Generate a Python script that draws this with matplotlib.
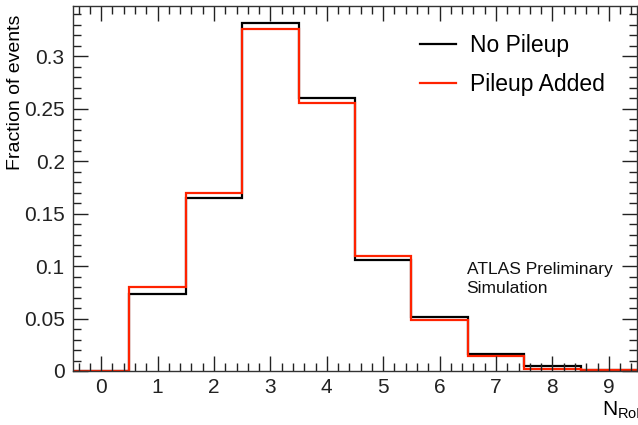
import matplotlib
matplotlib.use("Agg")
import matplotlib.pyplot as plt
from matplotlib.ticker import MultipleLocator
import numpy as np

plt.rcParams['font.family'] = ['Liberation Sans', 'DejaVu Sans']
plt.rcParams['mathtext.fontset'] = 'custom'
plt.rcParams['mathtext.rm'] = 'Liberation Sans'
plt.rcParams['mathtext.it'] = 'Liberation Sans'

# number of RoIs per event (bin centres 0..9)
n_roi = [0, 1, 2, 3, 4, 5, 6, 7, 8, 9]
no_pileup = [0.0, 0.0733, 0.1648, 0.3314, 0.2600, 0.1057, 0.0514, 0.0162, 0.0048, 0.0010]
pileup_added = [0.0, 0.0800, 0.1695, 0.3257, 0.2552, 0.1095, 0.0486, 0.0143, 0.0020, 0.0010]

edges = np.append(np.array(n_roi) - 0.5, n_roi[-1] + 0.5)

fig = plt.figure(figsize=(6.38, 4.25), dpi=100)
ax = fig.add_axes([73/638, 54/425, 564/638, 365/425])

ax.stairs(no_pileup, edges, color="black", lw=1.6, label="No Pileup")
ax.stairs(pileup_added, edges, color="#ff2200", lw=1.6, label="Pileup Added")

ax.set_xlim(edges[0], edges[-1])
ax.set_ylim(0, 1.05 * max(no_pileup))

# ATLAS-style ticks
ax.xaxis.set_major_locator(MultipleLocator(1))
ax.xaxis.set_minor_locator(MultipleLocator(0.2))
ax.yaxis.set_major_locator(MultipleLocator(0.05))
ax.yaxis.set_minor_locator(MultipleLocator(0.01))
ax.tick_params(which="both", direction="in", top=True, right=True, labelsize=15, colors="#222222")
ax.tick_params(which="major", length=11, width=1)
ax.tick_params(which="minor", length=6, width=1)
ax.tick_params(axis="x", pad=5)
ax.tick_params(axis="y", pad=6)
ax.yaxis.set_major_formatter(matplotlib.ticker.FuncFormatter(lambda v, p: f"{v:g}"))
for s in ax.spines.values():
    s.set_color("#333333")
    s.set_linewidth(1)

ax.set_ylabel("Fraction of events", fontsize=14, ha="right", va="center")
ax.yaxis.set_label_coords(-0.102, 0.975)
fig.text(602/638, 1 - 410/425, r"N$_{\mathrm{RoI}}$", fontsize=15, ha="left", va="center")

leg = ax.legend(loc="upper left", bbox_to_anchor=(0.578, 0.98), frameon=False, fontsize=16.5,
                handlelength=1.6, handletextpad=0.6, labelspacing=0.7)

ax.text(0.698, 0.252, "ATLAS Preliminary\nSimulation", transform=ax.transAxes,
        fontsize=12.5, ha="left", va="center", linespacing=1.3, color="#111111")

fig.savefig("out.png", dpi=100)
